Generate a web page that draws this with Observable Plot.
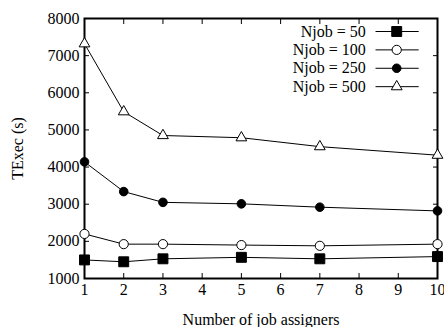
<!DOCTYPE html>
<html><head><meta charset="utf-8">
<script src="https://cdn.jsdelivr.net/npm/d3@7"></script>
<script src="https://cdn.jsdelivr.net/npm/@observablehq/plot@0.6"></script>
<style>body{margin:0;background:#fff}</style>
</head><body><div id="chart"></div>
<script>
const assigners = [1, 2, 3, 5, 7, 10];
const njob50  = [1500, 1450, 1530, 1570, 1530, 1590];
const njob100 = [2200, 1925, 1925, 1900, 1880, 1925];
const njob250 = [4140, 3340, 3050, 3010, 2920, 2820];
const njob500 = [7320, 5490, 4850, 4790, 4550, 4320];
const seriesNames = ["Njob = 50", "Njob = 100", "Njob = 250", "Njob = 500"];
const xTicks = [1, 2, 3, 4, 5, 6, 7, 8, 9, 10];
const yTicks = [1000, 2000, 3000, 4000, 5000, 6000, 7000, 8000];

const FONT = "Liberation Serif";
const FS = 16;
const symbols = ["square", "circle", "circle", "triangle"];
const fills = ["black", "white", "black", "white"];
const radii = [5.6, 4.6, 4.3, 4.0];
const allSeries = [njob50, njob100, njob250, njob500];

const rows = [];
allSeries.forEach((vals, s) => vals.forEach((v, i) => rows.push({s, x: assigners[i], y: v})));

// legend placed in data space (upper right)
const legend = seriesNames.map((name, i) => ({s: i, name, y: 7650 - i * 495}));
const legTextX = 8.17, legX1 = 8.42, legX2 = 9.52, legMid = 8.96;

const marks = [
  Plot.axisX({anchor: "bottom", ticks: xTicks, tickSize: -5, tickPadding: 10, tickFormat: d3.format("d"),
    fontFamily: FONT, fontSize: FS,
    label: "Number of job assigners", labelAnchor: "center", labelArrow: "none", labelOffset: 46}),
  Plot.axisX({anchor: "top", ticks: xTicks, tickSize: -5, tickFormat: () => "", label: null}),
  Plot.axisY({anchor: "left", ticks: yTicks, tickSize: -5, tickPadding: 10, tickFormat: d3.format("d"),
    fontFamily: FONT, fontSize: FS,
    label: "TExec (s)", labelAnchor: "center", labelArrow: "none", labelOffset: 73}),
  Plot.axisY({anchor: "right", ticks: yTicks, tickSize: -5, tickFormat: () => "", label: null}),
  Plot.frame({stroke: "black", strokeWidth: 2}),
];
allSeries.forEach((vals, s) => {
  const d = rows.filter(r => r.s === s);
  marks.push(Plot.line(d, {x: "x", y: "y", stroke: "black", strokeWidth: 1}));
  marks.push(Plot.dot(d, {x: "x", y: "y", symbol: () => symbols[s], r: radii[s], fill: fills[s], stroke: "black", strokeWidth: 1}));
  const l = legend.filter(r => r.s === s);
  marks.push(Plot.link(l, {x1: () => legX1, x2: () => legX2, y1: "y", y2: "y", stroke: "black", strokeWidth: 1}));
  marks.push(Plot.dot(l, {x: () => legMid, y: "y", symbol: () => symbols[s], r: radii[s], fill: fills[s], stroke: "black", strokeWidth: 1}));
  marks.push(Plot.text(l, {x: () => legTextX, y: "y", text: "name", textAnchor: "end", fill: "black",
    fontSize: FS, fontFamily: FONT}));
});

const chart = Plot.plot({
  width: 444, height: 327,
  marginLeft: 84, marginRight: 7, marginTop: 18, marginBottom: 49,
  x: {domain: [1, 10]},
  y: {domain: [1000, 8000]},
  style: {fontFamily: FONT, fontSize: FS + "px", color: "black", background: "white", overflow: "visible"},
  marks
});
document.getElementById("chart").appendChild(chart);
</script>
</body></html>
